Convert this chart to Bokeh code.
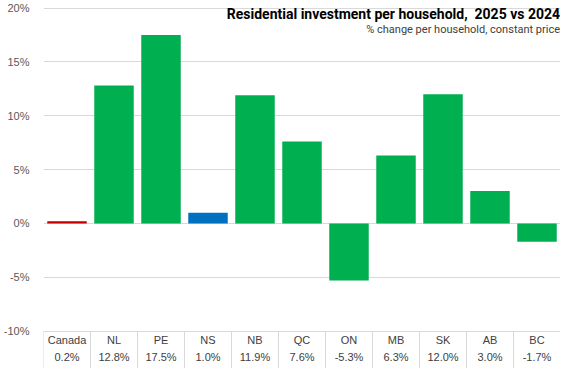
from bokeh.plotting import figure
from bokeh.models import Range1d, FixedTicker, ColumnDataSource
from bokeh.core.properties import value
from bokeh.embed import file_html
from bokeh.resources import INLINE

categories = ["Canada", "NL", "PE", "NS", "NB", "QC", "ON", "MB", "SK", "AB", "BC"]
values = [0.2, 12.8, 17.5, 1.0, 11.9, 7.6, -5.3, 6.3, 12.0, 3.0, -1.7]
value_labels = ["0.2%", "12.8%", "17.5%", "1.0%", "11.9%", "7.6%", "-5.3%", "6.3%", "12.0%", "3.0%", "-1.7%"]
colors = ["#C00000", "#00B050", "#00B050", "#0070C0", "#00B050", "#00B050",
          "#00B050", "#00B050", "#00B050", "#00B050", "#00B050"]
y_ticks = [-10, -5, 0, 5, 10, 15, 20]
title = "Residential investment per household,\u00a0 2025 vs 2024"
subtitle = "% change per household, constant price"

n = len(categories)
xc = [i + 0.5 for i in range(n)]

p = figure(width=560, height=368, output_backend="svg", toolbar_location=None,
           x_range=Range1d(0, n), y_range=Range1d(-13.47, 20.05),
           min_border_left=37, min_border_right=0, min_border_top=7, min_border_bottom=0)
p.outline_line_color = None
p.xaxis.visible = False
p.xgrid.visible = False
p.yaxis.ticker = FixedTicker(ticks=y_ticks)
p.yaxis.major_label_overrides = {t: f"{t}%" for t in y_ticks}
p.yaxis.axis_line_color = None
p.yaxis.major_tick_line_color = None
p.yaxis.minor_tick_line_color = None
p.yaxis.major_label_text_font = "Liberation Sans"
p.yaxis.major_label_text_font_size = "11px"
p.yaxis.major_label_text_color = "#595959"
p.yaxis.major_label_standoff = 8
p.ygrid.grid_line_color = "#D9D9D9"
p.ygrid.grid_line_width = 1

src = ColumnDataSource(dict(x=xc, top=values, color=colors, cat=categories, lab=value_labels))
p.vbar(x="x", top="top", bottom=0, width=0.84, fill_color="color", line_color=None, source=src)

# table below the axis
p.segment(x0=list(range(n + 1)), x1=list(range(n + 1)), y0=[-10] * (n + 1), y1=[-13.47] * (n + 1),
          line_color="#D9D9D9", line_width=1)
p.text(x="x", y=-10.87, text="cat", source=src, text_align="center", text_baseline="middle",
       text_font=value("Liberation Sans"), text_font_size="11px", text_color="#404040")
p.text(x="x", y=-12.39, text="lab", source=src, text_align="center", text_baseline="middle",
       text_font=value("Liberation Sans"), text_font_size="11px", text_color="#404040")

p.text(x=[10.99], y=[19.45], text=[title], text_align="right", text_baseline="middle",
       text_font=value("Roboto"), text_font_style="bold", text_font_size="14px", text_color="#000000")
p.text(x=[10.99], y=[18.0], text=[subtitle], text_align="right", text_baseline="middle",
       text_font=value("Roboto"), text_font_size="11px", text_color="#404040")

open("out.html", "w").write(file_html(p, INLINE))
